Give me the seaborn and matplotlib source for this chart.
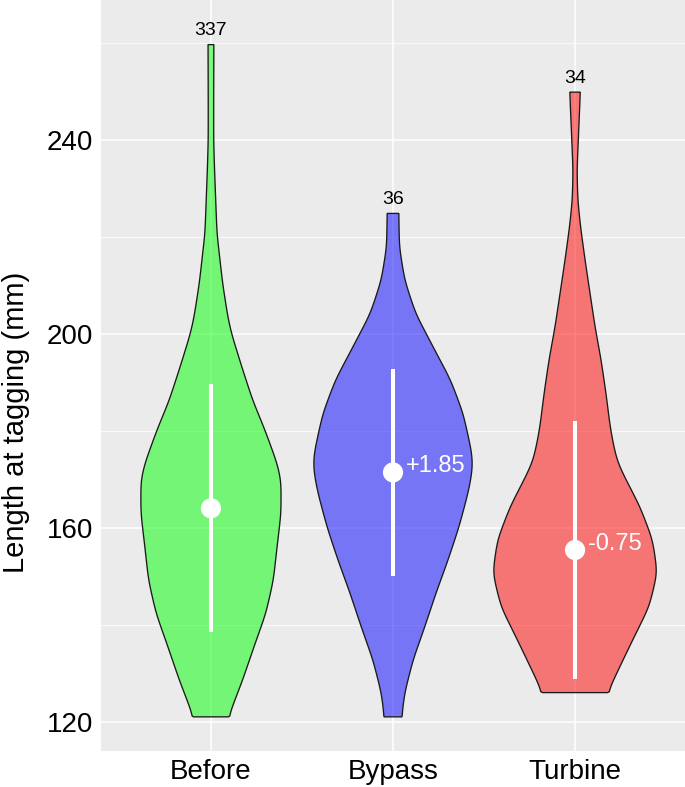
import numpy as np
import pandas as pd
import matplotlib
matplotlib.use("Agg")
import matplotlib.pyplot as plt
import seaborn as sns

# ---------------- data ----------------
groups = ["Before", "Bypass", "Turbine"]
colors = ["#00FF00", "#0000FF", "#FF0000"]
counts = [337, 36, 34]
means = [164.0, 171.4, 155.4]
sds = [25.6, 21.3, 26.6]
diff_labels = ["", "+1.85", "-0.75"]

# violin outlines: length (mm) and half-width of the density shape
before_y = [121, 128.6, 135.4, 142.4, 149.2, 156, 163, 169.8, 173.3, 180.1,
            186.3, 193.1, 200, 203.4, 210.4, 220.7, 234.6, 240, 248.2, 259.7]
before_w = [0.096, 0.174, 0.236, 0.302, 0.343, 0.363, 0.385, 0.385, 0.363, 0.297,
            0.229, 0.170, 0.113, 0.093, 0.064, 0.033, 0.019, 0.015, 0.015, 0.016]
bypass_y = [121, 125.9, 132.7, 139.5, 146.5, 153.3, 160.1, 167.1, 171.3, 174,
            176.7, 183.6, 190.5, 197.3, 204.2, 211.1, 217.9, 224.8]
bypass_w = [0.048, 0.064, 0.110, 0.174, 0.236, 0.302, 0.362, 0.412, 0.434, 0.438,
            0.426, 0.385, 0.316, 0.220, 0.124, 0.064, 0.035, 0.032]
turbine_y = [126, 130, 136.8, 143.7, 150.7, 157.5, 164.3, 171.3, 174, 178.1,
             180.8, 187.7, 194.6, 201.4, 208.4, 215.2, 222.1, 227.6, 233.7, 242.7, 249.8]
turbine_w = [0.179, 0.229, 0.316, 0.407, 0.452, 0.426, 0.357, 0.261, 0.229, 0.206,
             0.193, 0.170, 0.143, 0.110, 0.082, 0.055, 0.030, 0.015, 0.011, 0.021, 0.029]

profiles_y = [before_y, bypass_y, turbine_y]
profiles_w = [before_w, bypass_w, turbine_w]

y_major = [120, 160, 200, 240]
y_minor = [140, 180, 220, 260]

# ---------------- style ----------------
sns.set_theme(style="darkgrid", rc={
    "axes.facecolor": "#EBEBEB",
    "grid.color": "white",
    "axes.edgecolor": "#EBEBEB",
})
plt.rcParams["font.family"] = ["Liberation Sans", "DejaVu Sans"]

fig = plt.figure(figsize=(6.85, 7.87), dpi=100)
ax = fig.add_axes([101 / 685, 36 / 787, 584 / 685, 751 / 787])


def outline(yv, wv, step=0.2, sigma=1.6):
    """Render-only smoothing of the read outline (linear resample + gaussian blur)."""
    yv = np.asarray(yv, float)
    wv = np.asarray(wv, float)
    ys = np.arange(yv[0], yv[-1] + step / 2, step)
    ws = np.interp(ys, yv, wv)
    k = int(3 * sigma / step)
    kern = np.exp(-0.5 * (np.arange(-k, k + 1) * step / sigma) ** 2)
    kern /= kern.sum()
    padded = np.r_[np.full(k, ws[0]), ws, np.full(k, ws[-1])]
    ws_s = np.convolve(padded, kern, mode="valid")
    # keep the flat ends at the read widths
    ws_s[0], ws_s[-1] = wv[0], wv[-1]
    return ys, np.clip(ws_s, 0.004, None)


positions = np.arange(len(groups))
for pos, yv, wv, col in zip(positions, profiles_y, profiles_w, colors):
    ys, ws = outline(yv, wv)
    xs = np.r_[pos - ws, (pos + ws)[::-1]]
    yy = np.r_[ys, ys[::-1]]
    ax.fill(xs, yy, facecolor=col, alpha=0.5, edgecolor="none", zorder=2)
    ax.fill(xs, yy, facecolor="none", edgecolor="#1A1A1A", lw=0.95, zorder=3)

df = pd.DataFrame({"group": groups, "pos": positions, "mean": means, "sd": sds})

ax.vlines(df["pos"], df["mean"] - df["sd"], df["mean"] + df["sd"],
          color="white", lw=2.9, zorder=4)
sns.scatterplot(data=df, x="pos", y="mean", ax=ax, s=14.5 ** 2, color="white",
                edgecolor="none", zorder=5, legend=False)

for pos, yv, n in zip(positions, profiles_y, counts):
    ax.annotate(str(n), (pos, max(yv)), xytext=(0, 6.5), textcoords="offset points",
                ha="center", va="baseline", fontsize=14, color="black", zorder=6)

for pos, m, lab in zip(positions, means, diff_labels):
    if lab:
        ax.annotate(lab, (pos, m), xytext=(9, 0), textcoords="offset points",
                    ha="left", va="baseline", fontsize=17, color="white", zorder=6)

# ---------------- axes ----------------
ax.set_xlim(-0.604, 2.604)
ax.set_ylim(113.96, 268.8)
ax.set_xticks(positions)
ax.set_xticklabels(groups)
ax.set_yticks(y_major)
ax.set_yticks(y_minor, minor=True)
ax.grid(which="major", color="white", lw=1.1)
ax.grid(which="minor", axis="y", color="white", lw=0.55)
ax.tick_params(axis="both", which="major", labelsize=20, length=3.5, width=0.8,
               color="#333333", labelcolor="black", pad=2.2)
ax.tick_params(axis="y", which="minor", length=0)
for s in ax.spines.values():
    s.set_visible(False)
ax.set_axisbelow(True)
ax.set_xlabel("")
ax.set_ylabel("Length at tagging (mm)", fontsize=21, color="black")
ax.yaxis.set_label_coords(-0.1215, 0.438)

fig.savefig("out.png", dpi=100, facecolor="white")
